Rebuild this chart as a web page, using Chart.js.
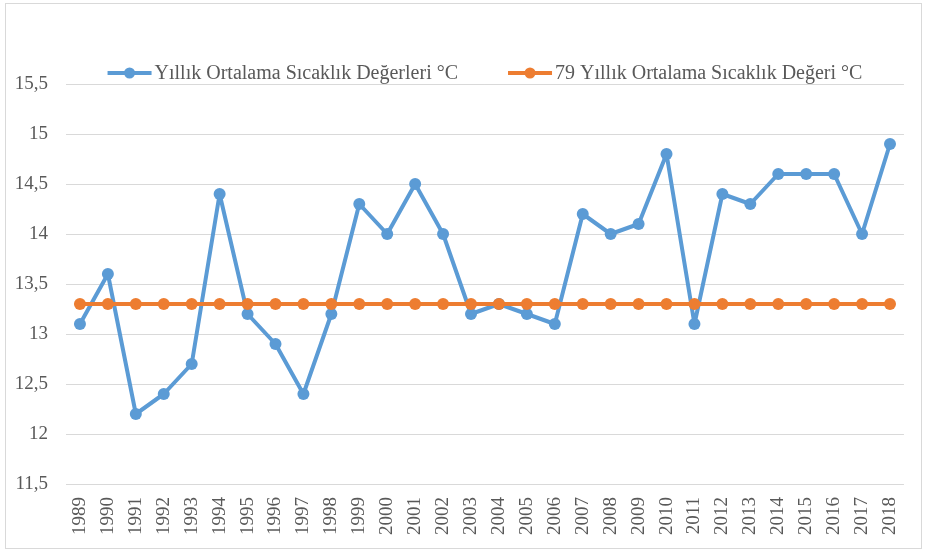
<!DOCTYPE html>
<html>
<head>
<meta charset="utf-8">
<script src="https://cdn.jsdelivr.net/npm/chart.js@4"></script>
<style>
  body { margin: 0; background: #fff; }
  #wrap { position: relative; width: 926px; height: 555px; }
  #frame { position: absolute; left: 5px; top: 3px; width: 915px; height: 544px; border: 1px solid #d9d9d9; pointer-events: none; }
</style>
</head>
<body>
<div id="wrap">
  <canvas id="sicaklik" width="926" height="555"></canvas>
  <div id="frame"></div>
</div>
<script>
// Yıllar ve sıcaklık değerleri
const years = ["1989","1990","1991","1992","1993","1994","1995","1996","1997","1998",
  "1999","2000","2001","2002","2003","2004","2005","2006","2007","2008",
  "2009","2010","2011","2012","2013","2014","2015","2016","2017","2018"];

const yearlyTemps = [13.1, 13.6, 12.2, 12.4, 12.7, 14.4, 13.2, 12.9, 12.4, 13.2,
  14.3, 14.0, 14.5, 14.0, 13.2, 13.3, 13.2, 13.1, 14.2, 14.0,
  14.1, 14.8, 13.1, 14.4, 14.3, 14.6, 14.6, 14.6, 14.0, 14.9];

const longTermAvg = [13.3, 13.3, 13.3, 13.3, 13.3, 13.3, 13.3, 13.3, 13.3, 13.3,
  13.3, 13.3, 13.3, 13.3, 13.3, 13.3, 13.3, 13.3, 13.3, 13.3,
  13.3, 13.3, 13.3, 13.3, 13.3, 13.3, 13.3, 13.3, 13.3, 13.3];

const seriesNames = ["Yıllık Ortalama Sıcaklık Değerleri °C", "79 Yıllık Ortalama Sıcaklık Değeri °C"];

const yMin = 11.5, yMax = 15.5, yStep = 0.5;

const BLUE = "#5b9bd5";
const ORANGE = "#ed7d31";
const TEXT = "#595959";
const FONT = "'Liberation Serif', 'Times New Roman', serif";

// Excel tarzı gösterge (çizgi + nokta)
const excelLegend = {
  id: "excelLegend",
  afterDraw(chart) {
    const ctx = chart.ctx;
    const area = chart.chartArea;
    const markW = 44, gap = 3, itemGap = 50;
    ctx.save();
    ctx.font = "20px " + FONT;
    const items = chart.data.datasets.map(ds => ({
      text: ds.label, color: ds.borderColor, w: markW + gap + ctx.measureText(ds.label).width
    }));
    let total = items.reduce((s, it) => s + it.w, 0) + itemGap * (items.length - 1);
    let x = (area.left + area.right) / 2 - total / 2;
    const y = area.top - 11;
    items.forEach(it => {
      ctx.strokeStyle = it.color;
      ctx.lineWidth = 4;
      ctx.beginPath();
      ctx.moveTo(x, y);
      ctx.lineTo(x + markW, y);
      ctx.stroke();
      ctx.fillStyle = it.color;
      ctx.beginPath();
      ctx.arc(x + markW / 2, y, 5.5, 0, Math.PI * 2);
      ctx.fill();
      ctx.fillStyle = TEXT;
      ctx.textBaseline = "middle";
      ctx.textAlign = "left";
      ctx.fillText(it.text, x + markW + gap, y + 1);
      x += it.w + itemGap;
    });
    ctx.restore();
  }
};

const ctx = document.getElementById("sicaklik").getContext("2d");

new Chart(ctx, {
  type: "line",
  data: {
    labels: years,
    datasets: [{
      label: seriesNames[0],
      data: yearlyTemps,
      borderColor: BLUE,
      backgroundColor: BLUE,
      borderWidth: 4,
      borderJoinStyle: "round",
      borderCapStyle: "round",
      pointRadius: 6,
      pointHoverRadius: 6,
      pointBorderWidth: 0,
      tension: 0,
      order: 2
    }, {
      label: seriesNames[1],
      data: longTermAvg,
      borderColor: ORANGE,
      backgroundColor: ORANGE,
      borderWidth: 4,
      borderJoinStyle: "round",
      borderCapStyle: "round",
      pointRadius: 6,
      pointHoverRadius: 6,
      pointBorderWidth: 0,
      tension: 0,
      order: 1
    }]
  },
  options: {
    responsive: false,
    animation: false,
    layout: { padding: { top: 84, left: 0, right: 13, bottom: 0 } },
    plugins: {
      legend: { display: false },
      tooltip: { enabled: false }
    },
    scales: {
      x: {
        offset: true,
        grid: { display: false, drawTicks: false },
        border: { display: false },
        ticks: {
          autoSkip: false,
          minRotation: 90,
          maxRotation: 90,
          padding: 13,
          color: TEXT,
          font: { family: FONT, size: 19 }
        },
        afterFit: (scale) => { scale.height = 71; }
      },
      y: {
        min: yMin,
        max: yMax,
        grid: { color: "#d9d9d9", lineWidth: 1, drawTicks: false },
        border: { display: false },
        ticks: {
          stepSize: yStep,
          padding: 18,
          color: TEXT,
          font: { family: FONT, size: 19 },
          callback: (v) => String(Math.round(v * 10) / 10).replace(".", ",")
        },
        afterFit: (scale) => { scale.width = 66; }
      }
    }
  },
  plugins: [excelLegend]
});
</script>
</body>
</html>
